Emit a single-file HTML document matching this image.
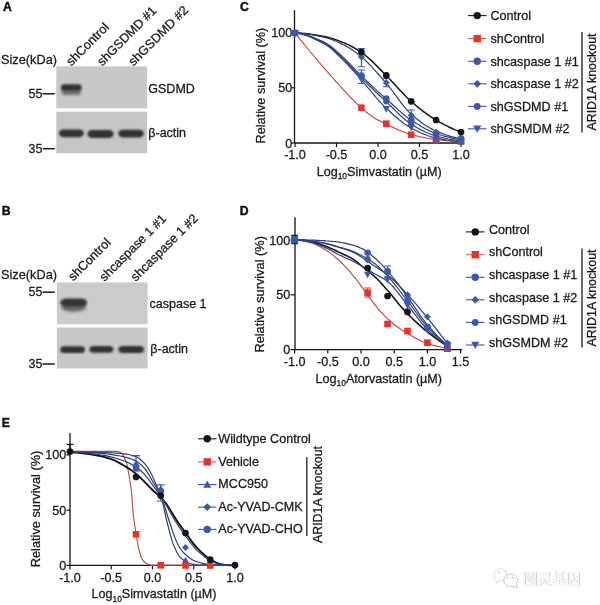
<!DOCTYPE html>
<html lang="en"><head><meta charset="utf-8"><title>Figure</title>
<style>html,body{margin:0;padding:0;background:#fff}body{width:600px;height:605px;overflow:hidden}svg{display:block}</style>
</head><body>
<svg width="600" height="605" viewBox="0 0 600 605" font-family='"Liberation Sans", sans-serif'>
<defs><filter id="b1" x="-20%" y="-50%" width="140%" height="200%"><feGaussianBlur stdDeviation="1.3"/></filter><filter id="b2" x="-20%" y="-50%" width="140%" height="200%"><feGaussianBlur stdDeviation="1.6"/></filter><linearGradient id="bg" x1="0" y1="0" x2="1" y2="0"><stop offset="0" stop-color="#c6c7c9"/><stop offset="1" stop-color="#c2c3c5"/></linearGradient></defs>
<rect width="600" height="605" fill="#fff"/>
<text x="3" y="10.7" font-size="12.2" text-anchor="start" font-weight="bold" fill="#111" stroke="#111" stroke-width="0.45">A</text>
<text x="1.8" y="215" font-size="12.2" text-anchor="start" font-weight="bold" fill="#111" stroke="#111" stroke-width="0.45">B</text>
<text x="240.1" y="10.8" font-size="12.2" text-anchor="start" font-weight="bold" fill="#111" stroke="#111" stroke-width="0.45">C</text>
<text x="239.8" y="215" font-size="12.2" text-anchor="start" font-weight="bold" fill="#111" stroke="#111" stroke-width="0.45">D</text>
<text x="1.8" y="427" font-size="12.2" text-anchor="start" font-weight="bold" fill="#111" stroke="#111" stroke-width="0.45">E</text>
<rect x="56.3" y="66.3" width="90.8" height="42" fill="#c7c8ca"/>
<rect x="56.3" y="111.7" width="90.8" height="41.6" fill="#c5c6c8"/>
<g filter="url(#b2)"><rect x="61.8" y="88.5" width="19" height="6.5" rx="2.5" fill="#5a5a5c" opacity="0.8"/></g>
<g filter="url(#b1)"><rect x="61" y="84.3" width="20.6" height="6.4" rx="3" fill="#333335"/></g>
<g filter="url(#b1)"><rect x="59" y="129.4" width="24.799999999999997" height="7.8" rx="4.4" ry="3.9" fill="#303032"/></g>
<g filter="url(#b1)"><rect x="87.5" y="130.1" width="26.099999999999994" height="7.8" rx="4.4" ry="3.9" fill="#303032"/></g>
<g filter="url(#b1)"><rect x="118.2" y="129.70000000000002" width="25.60000000000001" height="7.8" rx="4.4" ry="3.9" fill="#303032"/></g>
<text x="1" y="64" font-size="12.75" text-anchor="start" font-weight="normal" fill="#1a1a1a" stroke="#1a1a1a" stroke-width="0.28">Size(kDa)</text>
<text x="28.6" y="98" font-size="12.5" text-anchor="start" font-weight="normal" fill="#1a1a1a" stroke="#1a1a1a" stroke-width="0.28">55</text>
<path d="M42.6 93.8H54.8" stroke="#1a1a1a" stroke-width="1.5"/>
<text x="28.6" y="152.5" font-size="12.5" text-anchor="start" font-weight="normal" fill="#1a1a1a" stroke="#1a1a1a" stroke-width="0.28">35</text>
<path d="M42.6 148.7H54.8" stroke="#1a1a1a" stroke-width="1.5"/>
<text x="148.3" y="93.3" font-size="12.5" text-anchor="start" font-weight="normal" fill="#1a1a1a" stroke="#1a1a1a" stroke-width="0.28">GSDMD</text>
<text x="148.3" y="137.3" font-size="12.5" text-anchor="start" font-weight="normal" fill="#1a1a1a" stroke="#1a1a1a" stroke-width="0.28">β-actin</text>
<text x="71.3" y="66.5" font-size="12.7" text-anchor="start" font-weight="normal" fill="#1a1a1a" stroke="#1a1a1a" stroke-width="0.28" transform="rotate(-45 71.3 66.5)">shControl</text>
<text x="102.3" y="66.4" font-size="12.6" text-anchor="start" font-weight="normal" fill="#1a1a1a" stroke="#1a1a1a" stroke-width="0.28" transform="rotate(-45 102.3 66.4)">shGSDMD #1</text>
<text x="133.6" y="66.4" font-size="12.7" text-anchor="start" font-weight="normal" fill="#1a1a1a" stroke="#1a1a1a" stroke-width="0.28" transform="rotate(-45 133.6 66.4)">shGSDMD #2</text>
<rect x="56.8" y="282.4" width="90.8" height="41.8" fill="#cacbcd"/>
<rect x="56.8" y="327.5" width="90.8" height="41" fill="#c7c8ca"/>
<g filter="url(#b2)"><ellipse cx="73.6" cy="307.2" rx="12.4" ry="4.6" fill="#58585a" opacity="0.85"/></g>
<g filter="url(#b1)"><rect x="60.3" y="298.6" width="26.8" height="8" rx="6" ry="4" fill="#343436"/></g>
<g filter="url(#b1)"><rect x="60.2" y="346.3" width="24.799999999999997" height="6.8" rx="4.4" ry="3.4" fill="#303032"/></g>
<g filter="url(#b1)"><rect x="89.4" y="345.90000000000003" width="23.89999999999999" height="6.8" rx="4.4" ry="3.4" fill="#303032"/></g>
<g filter="url(#b1)"><rect x="118.5" y="346.1" width="25.5" height="6.8" rx="4.4" ry="3.4" fill="#303032"/></g>
<text x="1" y="279.2" font-size="12.75" text-anchor="start" font-weight="normal" fill="#1a1a1a" stroke="#1a1a1a" stroke-width="0.28">Size(kDa)</text>
<text x="28.6" y="295.5" font-size="12.5" text-anchor="start" font-weight="normal" fill="#1a1a1a" stroke="#1a1a1a" stroke-width="0.28">55</text>
<path d="M42.6 292.2H54.8" stroke="#1a1a1a" stroke-width="1.5"/>
<text x="28.6" y="367.5" font-size="12.5" text-anchor="start" font-weight="normal" fill="#1a1a1a" stroke="#1a1a1a" stroke-width="0.28">35</text>
<path d="M42.6 364H54.8" stroke="#1a1a1a" stroke-width="1.5"/>
<text x="149.6" y="307.8" font-size="12.5" text-anchor="start" font-weight="normal" fill="#1a1a1a" stroke="#1a1a1a" stroke-width="0.28">caspase 1</text>
<text x="150.3" y="352.7" font-size="12.5" text-anchor="start" font-weight="normal" fill="#1a1a1a" stroke="#1a1a1a" stroke-width="0.28">β-actin</text>
<text x="73.3" y="281.5" font-size="12.6" text-anchor="start" font-weight="normal" fill="#1a1a1a" stroke="#1a1a1a" stroke-width="0.28" transform="rotate(-45 73.3 281.5)">shControl</text>
<text x="104.5" y="282" font-size="12.6" text-anchor="start" font-weight="normal" fill="#1a1a1a" stroke="#1a1a1a" stroke-width="0.28" transform="rotate(-45 104.5 282)">shcaspase 1 #1</text>
<text x="135.8" y="282" font-size="12.7" text-anchor="start" font-weight="normal" fill="#1a1a1a" stroke="#1a1a1a" stroke-width="0.28" transform="rotate(-45 135.8 282)">shcaspase 1 #2</text>
<path d="M294.5 11V143H461.5" stroke="#141414" stroke-width="1.3" fill="none" stroke-linecap="square"/>
<path d="M295 143v4" stroke="#141414" stroke-width="1.2"/>
<text x="295" y="159.3" font-size="12.6" text-anchor="middle" font-weight="normal" fill="#1a1a1a" stroke="#1a1a1a" stroke-width="0.28">-1.0</text>
<path d="M336.5 143v4" stroke="#141414" stroke-width="1.2"/>
<text x="336.5" y="159.3" font-size="12.6" text-anchor="middle" font-weight="normal" fill="#1a1a1a" stroke="#1a1a1a" stroke-width="0.28">-0.5</text>
<path d="M378 143v4" stroke="#141414" stroke-width="1.2"/>
<text x="378" y="159.3" font-size="12.6" text-anchor="middle" font-weight="normal" fill="#1a1a1a" stroke="#1a1a1a" stroke-width="0.28">0.0</text>
<path d="M419.5 143v4" stroke="#141414" stroke-width="1.2"/>
<text x="419.5" y="159.3" font-size="12.6" text-anchor="middle" font-weight="normal" fill="#1a1a1a" stroke="#1a1a1a" stroke-width="0.28">0.5</text>
<path d="M461 143v4" stroke="#141414" stroke-width="1.2"/>
<text x="461" y="159.3" font-size="12.6" text-anchor="middle" font-weight="normal" fill="#1a1a1a" stroke="#1a1a1a" stroke-width="0.28">1.0</text>
<path d="M294.5 143.0h-3" stroke="#141414" stroke-width="1.2"/>
<text x="292.3" y="147.5" font-size="12.6" text-anchor="end" font-weight="normal" fill="#1a1a1a" stroke="#1a1a1a" stroke-width="0.28">0</text>
<path d="M294.5 87.75h-3" stroke="#141414" stroke-width="1.2"/>
<text x="292.3" y="92.25" font-size="12.6" text-anchor="end" font-weight="normal" fill="#1a1a1a" stroke="#1a1a1a" stroke-width="0.28">50</text>
<path d="M294.5 32.5h-3" stroke="#141414" stroke-width="1.2"/>
<text x="292.3" y="37.0" font-size="12.6" text-anchor="end" font-weight="normal" fill="#1a1a1a" stroke="#1a1a1a" stroke-width="0.28">100</text>
<text x="379.2" y="176" font-size="12.6" text-anchor="middle" fill="#1a1a1a" stroke="#1a1a1a" stroke-width="0.28">Log<tspan font-size="8.4" dy="3.2">10</tspan><tspan dy="-3.2">Simvastatin (µM)</tspan></text>
<text x="265" y="85.6" font-size="12.7" text-anchor="middle" font-weight="normal" fill="#1a1a1a" stroke="#1a1a1a" stroke-width="0.28" transform="rotate(-90 265 85.6)">Relative survival (%)</text>
<path d="M295.0 33.0 L297.1 33.0 L299.2 33.1 L301.3 33.2 L303.4 33.4 L305.5 33.6 L307.6 33.8 L309.7 34.1 L311.8 34.4 L313.9 34.7 L316.0 35.1 L318.1 35.4 L320.2 35.8 L322.3 36.2 L324.4 36.6 L326.5 37.0 L328.6 37.5 L330.7 38.1 L332.8 38.7 L334.9 39.4 L337.0 40.1 L339.1 40.9 L341.2 41.8 L343.3 42.6 L345.4 43.5 L347.5 44.4 L349.6 45.4 L351.7 46.5 L353.8 47.6 L355.9 48.8 L358.0 50.1 L360.1 51.4 L362.2 52.9 L364.3 54.4 L366.4 56.2 L368.5 58.0 L370.6 59.9 L372.7 61.9 L374.8 64.0 L376.9 66.1 L379.1 68.3 L381.2 70.4 L383.3 72.6 L385.4 74.7 L387.5 76.8 L389.6 78.9 L391.7 81.2 L393.8 83.4 L395.9 85.7 L398.0 88.1 L400.1 90.4 L402.2 92.6 L404.3 94.8 L406.4 97.0 L408.5 99.0 L410.6 100.9 L412.7 102.7 L414.8 104.5 L416.9 106.3 L419.0 108.0 L421.1 109.7 L423.2 111.3 L425.3 112.9 L427.4 114.4 L429.5 115.9 L431.6 117.3 L433.7 118.6 L435.8 119.9 L437.9 121.1 L440.0 122.3 L442.1 123.4 L444.2 124.6 L446.3 125.6 L448.4 126.7 L450.5 127.7 L452.6 128.7 L454.7 129.6 L456.8 130.4 L458.9 131.2 L461.0 132.0" stroke="#141414" stroke-width="1.5" fill="none" stroke-linejoin="round"/>
<path d="M295.0 33.0 L297.1 35.6 L299.2 38.2 L301.3 40.8 L303.4 43.4 L305.5 46.0 L307.6 48.5 L309.7 51.0 L311.8 53.5 L313.9 56.0 L316.0 58.5 L318.1 61.0 L320.2 63.5 L322.3 65.9 L324.4 68.3 L326.5 70.7 L328.6 73.2 L330.7 75.6 L332.8 78.0 L334.9 80.3 L337.0 82.7 L339.1 85.0 L341.2 87.4 L343.3 89.7 L345.4 91.9 L347.5 94.2 L349.6 96.4 L351.7 98.5 L353.8 100.7 L355.9 102.8 L358.0 104.8 L360.1 106.7 L362.2 108.6 L364.3 110.4 L366.4 112.1 L368.5 113.8 L370.6 115.4 L372.7 116.8 L374.8 118.2 L376.9 119.4 L379.1 120.5 L381.2 121.6 L383.3 122.7 L385.4 123.7 L387.5 124.7 L389.6 125.7 L391.7 126.7 L393.8 127.7 L395.9 128.7 L398.0 129.7 L400.1 130.6 L402.2 131.5 L404.3 132.3 L406.4 133.1 L408.5 133.8 L410.6 134.4 L412.7 134.9 L414.8 135.5 L416.9 136.0 L419.0 136.5 L421.1 137.0 L423.2 137.4 L425.3 137.8 L427.4 138.2 L429.5 138.6 L431.6 138.9 L433.7 139.2 L435.8 139.5 L437.9 139.7 L440.0 139.9 L442.1 140.2 L444.2 140.4 L446.3 140.6 L448.4 140.8 L450.5 141.0 L452.6 141.1 L454.7 141.2 L456.8 141.4 L458.9 141.4 L461.0 141.5" stroke="#b8443c" stroke-width="1.1" fill="none" stroke-linejoin="round"/>
<path d="M295.0 33.0 L297.1 33.0 L299.2 33.1 L301.3 33.3 L303.4 33.5 L305.5 33.7 L307.6 34.0 L309.7 34.4 L311.8 34.7 L313.9 35.1 L316.0 35.5 L318.1 36.0 L320.2 36.4 L322.3 36.9 L324.4 37.4 L326.5 37.9 L328.6 38.5 L330.7 39.1 L332.8 39.9 L334.9 40.8 L337.0 41.7 L339.1 42.6 L341.2 43.6 L343.3 44.7 L345.4 45.7 L347.5 46.9 L349.6 48.1 L351.7 49.5 L353.8 51.0 L355.9 52.5 L358.0 54.1 L360.1 55.8 L362.2 57.5 L364.3 59.4 L366.4 61.4 L368.5 63.5 L370.6 65.7 L372.7 67.9 L374.8 70.2 L376.9 72.6 L379.1 75.0 L381.2 77.4 L383.3 79.8 L385.4 82.3 L387.5 84.7 L389.6 87.3 L391.7 90.0 L393.8 92.9 L395.9 95.7 L398.0 98.6 L400.1 101.4 L402.2 104.2 L404.3 106.8 L406.4 109.3 L408.5 111.6 L410.6 113.6 L412.7 115.5 L414.8 117.2 L416.9 119.0 L419.0 120.6 L421.1 122.2 L423.2 123.7 L425.3 125.2 L427.4 126.5 L429.5 127.8 L431.6 128.9 L433.7 130.0 L435.8 130.9 L437.9 131.8 L440.0 132.6 L442.1 133.4 L444.2 134.2 L446.3 135.0 L448.4 135.7 L450.5 136.3 L452.6 136.9 L454.7 137.4 L456.8 137.9 L458.9 138.2 L461.0 138.5" stroke="#2c3f78" stroke-width="1.2" fill="none" stroke-linejoin="round"/>
<path d="M295.0 33.0 L297.1 33.1 L299.2 33.4 L301.3 33.7 L303.4 34.2 L305.5 34.7 L307.6 35.4 L309.7 36.1 L311.8 36.8 L313.9 37.7 L316.0 38.6 L318.1 39.5 L320.2 40.4 L322.3 41.4 L324.4 42.4 L326.5 43.5 L328.6 44.8 L330.7 46.3 L332.8 47.9 L334.9 49.7 L337.0 51.6 L339.1 53.5 L341.2 55.5 L343.3 57.5 L345.4 59.4 L347.5 61.4 L349.6 63.6 L351.7 65.8 L353.8 68.0 L355.9 70.3 L358.0 72.5 L360.1 74.6 L362.2 76.7 L364.3 78.7 L366.4 80.8 L368.5 82.8 L370.6 84.7 L372.7 86.7 L374.8 88.6 L376.9 90.6 L379.1 92.5 L381.2 94.4 L383.3 96.3 L385.4 98.1 L387.5 100.0 L389.6 101.9 L391.7 103.8 L393.8 105.8 L395.9 107.7 L398.0 109.6 L400.1 111.4 L402.2 113.3 L404.3 115.0 L406.4 116.7 L408.5 118.2 L410.6 119.7 L412.7 121.1 L414.8 122.5 L416.9 123.8 L419.0 125.1 L421.1 126.4 L423.2 127.6 L425.3 128.8 L427.4 129.8 L429.5 130.9 L431.6 131.8 L433.7 132.7 L435.8 133.4 L437.9 134.1 L440.0 134.8 L442.1 135.5 L444.2 136.1 L446.3 136.7 L448.4 137.2 L450.5 137.7 L452.6 138.2 L454.7 138.6 L456.8 139.0 L458.9 139.3 L461.0 139.5" stroke="#2c3f78" stroke-width="1.2" fill="none" stroke-linejoin="round"/>
<path d="M295.0 33.0 L297.1 33.2 L299.2 33.5 L301.3 33.9 L303.4 34.4 L305.5 35.0 L307.6 35.6 L309.7 36.4 L311.8 37.2 L313.9 38.1 L316.0 39.1 L318.1 40.1 L320.2 41.1 L322.3 42.1 L324.4 43.2 L326.5 44.3 L328.6 45.7 L330.7 47.3 L332.8 49.0 L334.9 50.8 L337.0 52.8 L339.1 54.8 L341.2 56.9 L343.3 58.9 L345.4 60.9 L347.5 63.0 L349.6 65.2 L351.7 67.5 L353.8 69.8 L355.9 72.1 L358.0 74.4 L360.1 76.6 L362.2 78.8 L364.3 80.9 L366.4 82.9 L368.5 85.0 L370.6 87.0 L372.7 89.0 L374.8 91.0 L376.9 93.0 L379.1 95.0 L381.2 97.0 L383.3 98.9 L385.4 100.9 L387.5 102.9 L389.6 104.9 L391.7 107.0 L393.8 109.0 L395.9 111.1 L398.0 113.2 L400.1 115.2 L402.2 117.1 L404.3 119.0 L406.4 120.7 L408.5 122.3 L410.6 123.7 L412.7 125.0 L414.8 126.3 L416.9 127.6 L419.0 128.7 L421.1 129.9 L423.2 131.0 L425.3 132.0 L427.4 133.0 L429.5 133.8 L431.6 134.6 L433.7 135.3 L435.8 135.9 L437.9 136.5 L440.0 137.0 L442.1 137.5 L444.2 138.0 L446.3 138.5 L448.4 139.0 L450.5 139.3 L452.6 139.7 L454.7 140.0 L456.8 140.2 L458.9 140.4 L461.0 140.5" stroke="#2c3f78" stroke-width="1.2" fill="none" stroke-linejoin="round"/>
<path d="M295.0 33.0 L297.1 33.2 L299.2 33.6 L301.3 34.0 L303.4 34.6 L305.5 35.2 L307.6 35.9 L309.7 36.8 L311.8 37.7 L313.9 38.6 L316.0 39.6 L318.1 40.7 L320.2 41.7 L322.3 42.9 L324.4 44.0 L326.5 45.2 L328.6 46.6 L330.7 48.3 L332.8 50.1 L334.9 52.0 L337.0 54.0 L339.1 56.1 L341.2 58.2 L343.3 60.3 L345.4 62.4 L347.5 64.6 L349.6 66.8 L351.7 69.1 L353.8 71.4 L355.9 73.8 L358.0 76.2 L360.1 78.5 L362.2 80.9 L364.3 83.3 L366.4 85.8 L368.5 88.3 L370.6 90.9 L372.7 93.4 L374.8 95.9 L376.9 98.4 L379.1 100.8 L381.2 103.1 L383.3 105.3 L385.4 107.4 L387.5 109.4 L389.6 111.3 L391.7 113.3 L393.8 115.2 L395.9 117.0 L398.0 118.8 L400.1 120.6 L402.2 122.2 L404.3 123.8 L406.4 125.2 L408.5 126.6 L410.6 127.8 L412.7 128.9 L414.8 130.0 L416.9 131.0 L419.0 132.0 L421.1 133.0 L423.2 133.9 L425.3 134.7 L427.4 135.5 L429.5 136.2 L431.6 136.9 L433.7 137.5 L435.8 138.0 L437.9 138.4 L440.0 138.8 L442.1 139.2 L444.2 139.6 L446.3 140.0 L448.4 140.4 L450.5 140.7 L452.6 140.9 L454.7 141.2 L456.8 141.3 L458.9 141.4 L461.0 141.5" stroke="#2c3f78" stroke-width="1.2" fill="none" stroke-linejoin="round"/>
<path d="M361.40 48.60V66.70M357.80 48.60H365.00M357.80 66.70H365.00" stroke="#3d58a6" stroke-width="1.15" fill="none"/>
<path d="M361.40 70.00V83.50M357.80 70.00H365.00M357.80 83.50H365.00" stroke="#3d58a6" stroke-width="1.15" fill="none"/>
<path d="M386.30 78.50V86.70M382.70 78.50H389.90M382.70 86.70H389.90" stroke="#3d58a6" stroke-width="1.15" fill="none"/>
<path d="M411.20 110.00V120.00M407.60 110.00H414.80M407.60 120.00H414.80" stroke="#3d58a6" stroke-width="1.15" fill="none"/>
<rect x="432.8" y="136.89999999999998" width="6.6" height="6.6" fill="#80468c"/>
<rect x="457.7" y="138.0" width="6.6" height="6.6" fill="#80468c"/>
<polygon points="291.37,30.10 298.63,30.10 295.00,36.63" fill="#3d58a6"/>
<polygon points="357.77,76.10 365.03,76.10 361.40,82.63" fill="#3d58a6"/>
<polygon points="382.67,106.10 389.93,106.10 386.30,112.63" fill="#3d58a6"/>
<polygon points="407.57,124.60 414.83,124.60 411.20,131.13" fill="#3d58a6"/>
<polygon points="432.47,133.40 439.73,133.40 436.10,139.93" fill="#3d58a6"/>
<polygon points="457.37,138.10 464.63,138.10 461.00,144.63" fill="#3d58a6"/>
<circle cx="295.00" cy="33.00" r="3.04" fill="#3d58a6"/>
<circle cx="361.40" cy="77.00" r="3.04" fill="#3d58a6"/>
<circle cx="386.30" cy="101.50" r="3.04" fill="#3d58a6"/>
<circle cx="411.20" cy="124.00" r="3.04" fill="#3d58a6"/>
<circle cx="436.10" cy="135.00" r="3.04" fill="#3d58a6"/>
<circle cx="461.00" cy="139.50" r="3.04" fill="#3d58a6"/>
<circle cx="295.00" cy="33.00" r="3.30" fill="#3d58a6"/>
<circle cx="361.40" cy="75.50" r="3.30" fill="#3d58a6"/>
<circle cx="386.30" cy="98.50" r="3.30" fill="#3d58a6"/>
<circle cx="411.20" cy="120.00" r="3.30" fill="#3d58a6"/>
<circle cx="436.10" cy="133.50" r="3.30" fill="#3d58a6"/>
<circle cx="461.00" cy="138.50" r="3.30" fill="#3d58a6"/>
<polygon points="295.00,29.54 298.46,33.00 295.00,36.47 291.54,33.00" fill="#3d58a6"/>
<polygon points="361.40,53.53 364.86,57.00 361.40,60.47 357.94,57.00" fill="#3d58a6"/>
<polygon points="386.30,79.23 389.76,82.70 386.30,86.17 382.84,82.70" fill="#3d58a6"/>
<polygon points="411.20,111.83 414.66,115.30 411.20,118.77 407.74,115.30" fill="#3d58a6"/>
<polygon points="436.10,128.84 439.56,132.30 436.10,135.77 432.64,132.30" fill="#3d58a6"/>
<polygon points="461.00,134.53 464.46,138.00 461.00,141.47 457.54,138.00" fill="#3d58a6"/>
<rect x="358.10" y="104.40" width="6.60" height="6.60" fill="#e5342c"/>
<rect x="383.00" y="120.40" width="6.60" height="6.60" fill="#e5342c"/>
<rect x="407.90" y="131.40" width="6.60" height="6.60" fill="#e5342c"/>
<rect x="432.8" y="139.3" width="6.6" height="4.2" fill="#80468c"/>
<rect x="457.7" y="140.3" width="6.6" height="4.2" fill="#80468c"/>
<circle cx="361.40" cy="52.00" r="3.35" fill="#141414"/>
<circle cx="386.30" cy="75.30" r="3.35" fill="#141414"/>
<circle cx="411.20" cy="101.30" r="3.35" fill="#141414"/>
<circle cx="436.10" cy="120.00" r="3.35" fill="#141414"/>
<circle cx="461.00" cy="132.00" r="3.35" fill="#141414"/>
<polygon points="457.59,139.27 464.41,139.27 461.00,145.41" fill="#3d58a6"/>
<rect x="291.80" y="29.80" width="6.40" height="6.40" fill="#3d58a6"/>
<polygon points="291.15,29.92 298.85,29.92 295.00,36.85" fill="#3d58a6"/>
<polygon points="295.00,29.32 298.68,33.00 295.00,36.67 291.32,33.00" fill="#3d58a6"/>
<path d="M468 15.6H486.5" stroke="#141414" stroke-width="1.1"/>
<circle cx="477.25" cy="15.60" r="3.70" fill="#141414"/>
<text x="490.5" y="19.9" font-size="12.6" text-anchor="start" font-weight="normal" fill="#1a1a1a" stroke="#1a1a1a" stroke-width="0.28">Control</text>
<path d="M468 38.6H486.5" stroke="#d0605a" stroke-width="1.1"/>
<rect x="473.55" y="34.90" width="7.40" height="7.40" fill="#e5342c"/>
<text x="490.5" y="42.9" font-size="12.6" text-anchor="start" font-weight="normal" fill="#1a1a1a" stroke="#1a1a1a" stroke-width="0.28">shControl</text>
<path d="M468 61.3H486.5" stroke="#3d58a6" stroke-width="1.1"/>
<circle cx="477.25" cy="61.30" r="3.70" fill="#3d58a6"/>
<text x="490.5" y="65.6" font-size="12.6" text-anchor="start" font-weight="normal" fill="#1a1a1a" stroke="#1a1a1a" stroke-width="0.28">shcaspase 1 #1</text>
<path d="M468 83.8H486.5" stroke="#3d58a6" stroke-width="1.1"/>
<polygon points="477.25,79.91 481.13,83.80 477.25,87.69 473.37,83.80" fill="#3d58a6"/>
<text x="490.5" y="88.1" font-size="12.6" text-anchor="start" font-weight="normal" fill="#1a1a1a" stroke="#1a1a1a" stroke-width="0.28">shcaspase 1 #2</text>
<path d="M468 106.4H486.5" stroke="#3d58a6" stroke-width="1.1"/>
<circle cx="477.25" cy="106.40" r="3.40" fill="#3d58a6"/>
<text x="490.5" y="110.7" font-size="12.6" text-anchor="start" font-weight="normal" fill="#1a1a1a" stroke="#1a1a1a" stroke-width="0.28">shGSDMD #1</text>
<path d="M468 128.8H486.5" stroke="#3d58a6" stroke-width="1.1"/>
<polygon points="473.18,125.54 481.32,125.54 477.25,132.87" fill="#3d58a6"/>
<text x="490.5" y="133.10000000000002" font-size="12.6" text-anchor="start" font-weight="normal" fill="#1a1a1a" stroke="#1a1a1a" stroke-width="0.28">shGSMDM #2</text>
<path d="M582 32V132.5" stroke="#1a1a1a" stroke-width="1.3"/>
<text x="596.3" y="82" font-size="12.4" text-anchor="middle" font-weight="normal" fill="#1a1a1a" stroke="#1a1a1a" stroke-width="0.28" transform="rotate(-90 596.3 82)">ARID1A knockout</text>
<path d="M295 218V349.6H461.5" stroke="#141414" stroke-width="1.3" fill="none" stroke-linecap="square"/>
<path d="M294.6 349.6v4" stroke="#141414" stroke-width="1.2"/>
<text x="294.6" y="365.90000000000003" font-size="12.6" text-anchor="middle" font-weight="normal" fill="#1a1a1a" stroke="#1a1a1a" stroke-width="0.28">-1.0</text>
<path d="M327.8 349.6v4" stroke="#141414" stroke-width="1.2"/>
<text x="327.8" y="365.90000000000003" font-size="12.6" text-anchor="middle" font-weight="normal" fill="#1a1a1a" stroke="#1a1a1a" stroke-width="0.28">-0.5</text>
<path d="M361.0 349.6v4" stroke="#141414" stroke-width="1.2"/>
<text x="361.0" y="365.90000000000003" font-size="12.6" text-anchor="middle" font-weight="normal" fill="#1a1a1a" stroke="#1a1a1a" stroke-width="0.28">0.0</text>
<path d="M394.2 349.6v4" stroke="#141414" stroke-width="1.2"/>
<text x="394.2" y="365.90000000000003" font-size="12.6" text-anchor="middle" font-weight="normal" fill="#1a1a1a" stroke="#1a1a1a" stroke-width="0.28">0.5</text>
<path d="M427.4 349.6v4" stroke="#141414" stroke-width="1.2"/>
<text x="427.4" y="365.90000000000003" font-size="12.6" text-anchor="middle" font-weight="normal" fill="#1a1a1a" stroke="#1a1a1a" stroke-width="0.28">1.0</text>
<path d="M460.6 349.6v4" stroke="#141414" stroke-width="1.2"/>
<text x="460.6" y="365.90000000000003" font-size="12.6" text-anchor="middle" font-weight="normal" fill="#1a1a1a" stroke="#1a1a1a" stroke-width="0.28">1.5</text>
<path d="M295 349.6h-4.6" stroke="#141414" stroke-width="1.2"/>
<text x="290.3" y="354.1" font-size="12.6" text-anchor="end" font-weight="normal" fill="#1a1a1a" stroke="#1a1a1a" stroke-width="0.28">0</text>
<path d="M295 294.8h-4.6" stroke="#141414" stroke-width="1.2"/>
<text x="290.3" y="299.3" font-size="12.6" text-anchor="end" font-weight="normal" fill="#1a1a1a" stroke="#1a1a1a" stroke-width="0.28">50</text>
<path d="M295 240.0h-4.6" stroke="#141414" stroke-width="1.2"/>
<text x="290.3" y="244.5" font-size="12.6" text-anchor="end" font-weight="normal" fill="#1a1a1a" stroke="#1a1a1a" stroke-width="0.28">100</text>
<text x="378.8" y="382.6" font-size="12.6" text-anchor="middle" fill="#1a1a1a" stroke="#1a1a1a" stroke-width="0.28">Log<tspan font-size="8.4" dy="3.2">10</tspan><tspan dy="-3.2">Atorvastatin (µM)</tspan></text>
<text x="263.8" y="294.3" font-size="12.8" text-anchor="middle" font-weight="normal" fill="#1a1a1a" stroke="#1a1a1a" stroke-width="0.28" transform="rotate(-90 263.8 294.3)">Relative survival (%)</text>
<path d="M295.0 239.7 L296.9 239.8 L298.9 239.9 L300.8 240.1 L302.7 240.4 L304.6 240.6 L306.6 240.9 L308.5 241.2 L310.4 241.6 L312.4 242.0 L314.3 242.5 L316.2 243.0 L318.1 243.6 L320.1 244.2 L322.0 244.9 L323.9 245.6 L325.8 246.3 L327.8 247.1 L329.7 247.9 L331.6 248.7 L333.6 249.6 L335.5 250.5 L337.4 251.5 L339.3 252.4 L341.3 253.3 L343.2 254.2 L345.1 255.0 L347.1 255.9 L349.0 256.9 L350.9 257.9 L352.8 259.0 L354.8 260.3 L356.7 261.7 L358.6 263.3 L360.5 265.0 L362.5 266.6 L364.4 268.2 L366.3 269.7 L368.3 271.1 L370.2 272.7 L372.1 274.3 L374.0 276.0 L376.0 277.8 L377.9 279.8 L379.8 281.8 L381.8 283.9 L383.7 286.0 L385.6 288.2 L387.5 290.3 L389.5 292.5 L391.4 294.8 L393.3 297.2 L395.2 299.6 L397.2 302.0 L399.1 304.4 L401.0 306.7 L403.0 308.9 L404.9 310.9 L406.8 312.9 L408.7 314.9 L410.7 316.8 L412.6 318.7 L414.5 320.6 L416.5 322.4 L418.4 324.2 L420.3 325.9 L422.2 327.6 L424.2 329.3 L426.1 330.9 L428.0 332.4 L429.9 333.9 L431.9 335.4 L433.8 336.9 L435.7 338.3 L437.7 339.7 L439.6 341.0 L441.5 342.3 L443.4 343.6 L445.4 344.8 L447.3 346.0" stroke="#141414" stroke-width="1.6" fill="none" stroke-linejoin="round"/>
<path d="M295.0 239.7 L296.9 239.8 L298.9 240.1 L300.8 240.4 L302.7 240.7 L304.6 241.1 L306.6 241.6 L308.5 242.1 L310.4 242.6 L312.4 243.2 L314.3 244.0 L316.2 244.8 L318.1 245.7 L320.1 246.7 L322.0 247.8 L323.9 248.9 L325.8 250.0 L327.8 251.3 L329.7 252.6 L331.6 254.1 L333.6 255.6 L335.5 257.3 L337.4 259.0 L339.3 260.7 L341.3 262.5 L343.2 264.4 L345.1 266.4 L347.1 268.5 L349.0 270.7 L350.9 272.9 L352.8 275.3 L354.8 277.6 L356.7 280.0 L358.6 282.5 L360.5 285.1 L362.5 287.8 L364.4 290.6 L366.3 293.3 L368.3 295.9 L370.2 298.5 L372.1 301.1 L374.0 303.7 L376.0 306.2 L377.9 308.6 L379.8 310.8 L381.8 312.9 L383.7 314.9 L385.6 316.8 L387.5 318.6 L389.5 320.4 L391.4 322.1 L393.3 323.7 L395.2 325.2 L397.2 326.7 L399.1 328.0 L401.0 329.4 L403.0 330.7 L404.9 331.9 L406.8 333.0 L408.7 334.2 L410.7 335.3 L412.6 336.4 L414.5 337.5 L416.5 338.6 L418.4 339.6 L420.3 340.6 L422.2 341.5 L424.2 342.3 L426.1 343.0 L428.0 343.7 L429.9 344.3 L431.9 344.8 L433.8 345.4 L435.7 345.9 L437.7 346.4 L439.6 346.8 L441.5 347.2 L443.4 347.5 L445.4 347.8 L447.3 348.0" stroke="#b8443c" stroke-width="1.1" fill="none" stroke-linejoin="round"/>
<path d="M295.0 239.7 L296.9 239.7 L298.9 239.7 L300.8 239.8 L302.7 239.8 L304.6 239.9 L306.6 239.9 L308.5 240.0 L310.4 240.1 L312.4 240.1 L314.3 240.2 L316.2 240.3 L318.1 240.4 L320.1 240.5 L322.0 240.6 L323.9 240.7 L325.8 240.9 L327.8 241.0 L329.7 241.2 L331.6 241.3 L333.6 241.5 L335.5 241.7 L337.4 242.0 L339.3 242.2 L341.3 242.5 L343.2 242.8 L345.1 243.2 L347.1 243.6 L349.0 244.1 L350.9 244.6 L352.8 245.2 L354.8 245.7 L356.7 246.4 L358.6 247.1 L360.5 248.0 L362.5 248.9 L364.4 249.9 L366.3 251.2 L368.3 252.6 L370.2 254.1 L372.1 255.7 L374.0 257.3 L376.0 259.0 L377.9 260.8 L379.8 262.7 L381.8 264.7 L383.7 266.7 L385.6 268.8 L387.5 270.9 L389.5 273.1 L391.4 275.5 L393.3 277.9 L395.2 280.3 L397.2 282.9 L399.1 285.4 L401.0 288.1 L403.0 290.7 L404.9 293.3 L406.8 295.9 L408.7 298.6 L410.7 301.3 L412.6 304.1 L414.5 306.9 L416.5 309.8 L418.4 312.7 L420.3 315.5 L422.2 318.2 L424.2 320.8 L426.1 323.3 L428.0 325.6 L429.9 327.8 L431.9 330.0 L433.8 332.1 L435.7 334.2 L437.7 336.2 L439.6 338.1 L441.5 339.9 L443.4 341.7 L445.4 343.4 L447.3 345.0" stroke="#2c3f78" stroke-width="1.2" fill="none" stroke-linejoin="round"/>
<path d="M295.0 239.7 L296.9 239.8 L298.9 239.9 L300.8 240.0 L302.7 240.2 L304.6 240.4 L306.6 240.6 L308.5 240.8 L310.4 241.1 L312.4 241.3 L314.3 241.6 L316.2 241.9 L318.1 242.2 L320.1 242.5 L322.0 242.8 L323.9 243.2 L325.8 243.7 L327.8 244.2 L329.7 244.7 L331.6 245.2 L333.6 245.8 L335.5 246.3 L337.4 246.9 L339.3 247.5 L341.3 248.1 L343.2 248.7 L345.1 249.3 L347.1 249.9 L349.0 250.6 L350.9 251.3 L352.8 252.1 L354.8 253.0 L356.7 254.1 L358.6 255.2 L360.5 256.5 L362.5 257.8 L364.4 259.0 L366.3 260.3 L368.3 261.7 L370.2 263.1 L372.1 264.5 L374.0 265.8 L376.0 267.1 L377.9 268.3 L379.8 269.6 L381.8 270.8 L383.7 272.1 L385.6 273.5 L387.5 274.9 L389.5 276.5 L391.4 278.2 L393.3 280.0 L395.2 281.8 L397.2 283.7 L399.1 285.7 L401.0 287.7 L403.0 289.7 L404.9 291.8 L406.8 293.9 L408.7 295.9 L410.7 298.1 L412.6 300.2 L414.5 302.4 L416.5 304.7 L418.4 306.9 L420.3 309.3 L422.2 311.6 L424.2 313.9 L426.1 316.3 L428.0 318.6 L429.9 321.0 L431.9 323.4 L433.8 325.9 L435.7 328.3 L437.7 330.8 L439.6 333.3 L441.5 335.8 L443.4 338.4 L445.4 340.9 L447.3 343.5" stroke="#2c3f78" stroke-width="1.2" fill="none" stroke-linejoin="round"/>
<path d="M295.0 239.7 L296.9 239.8 L298.9 239.9 L300.8 240.0 L302.7 240.1 L304.6 240.3 L306.6 240.5 L308.5 240.7 L310.4 241.0 L312.4 241.2 L314.3 241.5 L316.2 241.7 L318.1 242.0 L320.1 242.3 L322.0 242.6 L323.9 243.0 L325.8 243.4 L327.8 243.9 L329.7 244.3 L331.6 244.8 L333.6 245.4 L335.5 245.9 L337.4 246.5 L339.3 247.0 L341.3 247.6 L343.2 248.1 L345.1 248.7 L347.1 249.3 L349.0 249.9 L350.9 250.6 L352.8 251.3 L354.8 252.1 L356.7 253.0 L358.6 254.0 L360.5 255.0 L362.5 256.0 L364.4 257.1 L366.3 258.2 L368.3 259.3 L370.2 260.4 L372.1 261.7 L374.0 263.0 L376.0 264.6 L377.9 266.3 L379.8 268.0 L381.8 269.9 L383.7 271.9 L385.6 273.9 L387.5 275.9 L389.5 278.0 L391.4 280.3 L393.3 282.6 L395.2 285.0 L397.2 287.4 L399.1 289.9 L401.0 292.4 L403.0 295.0 L404.9 297.5 L406.8 300.0 L408.7 302.5 L410.7 305.0 L412.6 307.7 L414.5 310.3 L416.5 313.0 L418.4 315.6 L420.3 318.2 L422.2 320.8 L424.2 323.2 L426.1 325.4 L428.0 327.6 L429.9 329.6 L431.9 331.6 L433.8 333.5 L435.7 335.3 L437.7 337.1 L439.6 338.9 L441.5 340.5 L443.4 342.1 L445.4 343.6 L447.3 345.0" stroke="#2c3f78" stroke-width="1.2" fill="none" stroke-linejoin="round"/>
<path d="M295.0 239.7 L296.9 239.8 L298.9 240.0 L300.8 240.3 L302.7 240.6 L304.6 240.9 L306.6 241.3 L308.5 241.7 L310.4 242.1 L312.4 242.6 L314.3 243.2 L316.2 243.9 L318.1 244.6 L320.1 245.4 L322.0 246.2 L323.9 247.0 L325.8 247.9 L327.8 248.8 L329.7 249.8 L331.6 250.8 L333.6 251.9 L335.5 252.9 L337.4 254.0 L339.3 255.0 L341.3 255.9 L343.2 256.8 L345.1 257.7 L347.1 258.6 L349.0 259.4 L350.9 260.3 L352.8 261.3 L354.8 262.3 L356.7 263.3 L358.6 264.3 L360.5 265.4 L362.5 266.5 L364.4 267.6 L366.3 268.8 L368.3 269.9 L370.2 271.1 L372.1 272.3 L374.0 273.4 L376.0 274.5 L377.9 275.6 L379.8 276.6 L381.8 277.7 L383.7 278.8 L385.6 280.1 L387.5 281.5 L389.5 283.1 L391.4 284.9 L393.3 287.0 L395.2 289.3 L397.2 291.6 L399.1 294.1 L401.0 296.6 L403.0 299.1 L404.9 301.6 L406.8 304.0 L408.7 306.4 L410.7 308.8 L412.6 311.3 L414.5 313.8 L416.5 316.4 L418.4 318.9 L420.3 321.4 L422.2 323.7 L424.2 326.0 L426.1 328.1 L428.0 330.0 L429.9 331.9 L431.9 333.6 L433.8 335.4 L435.7 337.0 L437.7 338.6 L439.6 340.2 L441.5 341.6 L443.4 343.0 L445.4 344.3 L447.3 345.5" stroke="#2c3f78" stroke-width="1.2" fill="none" stroke-linejoin="round"/>
<path d="M294.60 235.40V243.70M291.30 235.40H297.90M291.30 243.70H297.90" stroke="#141414" stroke-width="1.3" fill="none"/>
<path d="M367.64 288.00V297.00M364.04 288.00H371.24M364.04 297.00H371.24" stroke="#e5342c" stroke-width="1.15" fill="none"/>
<path d="M387.56 266.00V277.00M383.96 266.00H391.16M383.96 277.00H391.16" stroke="#3d58a6" stroke-width="1.15" fill="none"/>
<path d="M407.48 296.00V309.00M403.88 296.00H411.08M403.88 309.00H411.08" stroke="#3d58a6" stroke-width="1.15" fill="none"/>
<circle cx="367.64" cy="268.00" r="3.35" fill="#141414"/>
<circle cx="387.56" cy="296.00" r="3.35" fill="#141414"/>
<circle cx="407.48" cy="312.00" r="3.35" fill="#141414"/>
<rect x="444.02" y="345.4" width="6.6" height="6.6" fill="#80468c"/>
<polygon points="290.97,236.80 298.23,236.80 294.60,243.33" fill="#3d58a6"/>
<polygon points="364.01,271.80 371.27,271.80 367.64,278.33" fill="#3d58a6"/>
<polygon points="383.93,276.60 391.19,276.60 387.56,283.13" fill="#3d58a6"/>
<polygon points="403.85,302.60 411.11,302.60 407.48,309.13" fill="#3d58a6"/>
<polygon points="423.77,327.10 431.03,327.10 427.40,333.63" fill="#3d58a6"/>
<polygon points="443.69,342.10 450.95,342.10 447.32,348.63" fill="#3d58a6"/>
<circle cx="294.60" cy="239.70" r="3.04" fill="#3d58a6"/>
<circle cx="367.64" cy="259.00" r="3.04" fill="#3d58a6"/>
<circle cx="387.56" cy="272.00" r="3.04" fill="#3d58a6"/>
<circle cx="407.48" cy="302.00" r="3.04" fill="#3d58a6"/>
<circle cx="427.40" cy="327.00" r="3.04" fill="#3d58a6"/>
<circle cx="447.32" cy="344.50" r="3.04" fill="#3d58a6"/>
<circle cx="294.60" cy="239.70" r="3.30" fill="#3d58a6"/>
<circle cx="367.64" cy="252.70" r="3.30" fill="#3d58a6"/>
<circle cx="387.56" cy="271.30" r="3.30" fill="#3d58a6"/>
<circle cx="407.48" cy="300.00" r="3.30" fill="#3d58a6"/>
<circle cx="427.40" cy="326.70" r="3.30" fill="#3d58a6"/>
<circle cx="447.32" cy="344.00" r="3.30" fill="#3d58a6"/>
<polygon points="294.60,236.23 298.06,239.70 294.60,243.16 291.14,239.70" fill="#3d58a6"/>
<polygon points="367.64,256.54 371.10,260.00 367.64,263.46 364.18,260.00" fill="#3d58a6"/>
<polygon points="387.56,269.54 391.02,273.00 387.56,276.46 384.10,273.00" fill="#3d58a6"/>
<polygon points="407.48,291.24 410.94,294.70 407.48,298.16 404.02,294.70" fill="#3d58a6"/>
<polygon points="427.40,313.24 430.86,316.70 427.40,320.16 423.94,316.70" fill="#3d58a6"/>
<polygon points="447.32,339.54 450.78,343.00 447.32,346.46 443.86,343.00" fill="#3d58a6"/>
<rect x="364.34" y="289.40" width="6.60" height="6.60" fill="#e5342c"/>
<rect x="384.26" y="320.70" width="6.60" height="6.60" fill="#e5342c"/>
<rect x="404.18" y="327.70" width="6.60" height="6.60" fill="#e5342c"/>
<rect x="424.10" y="339.40" width="6.60" height="6.60" fill="#e5342c"/>
<rect x="444.02" y="347.2" width="6.6" height="4.8" fill="#80468c"/>
<rect x="291.10" y="236.20" width="7.00" height="7.00" fill="#3d58a6"/>
<path d="M466 231.9H484.5" stroke="#141414" stroke-width="1.1"/>
<circle cx="475.25" cy="231.90" r="3.70" fill="#141414"/>
<text x="489" y="233.60000000000002" font-size="12.6" text-anchor="start" font-weight="normal" fill="#1a1a1a" stroke="#1a1a1a" stroke-width="0.28">Control</text>
<path d="M466 254.7H484.5" stroke="#d0605a" stroke-width="1.1"/>
<rect x="471.55" y="251.00" width="7.40" height="7.40" fill="#e5342c"/>
<text x="489" y="256.4" font-size="12.6" text-anchor="start" font-weight="normal" fill="#1a1a1a" stroke="#1a1a1a" stroke-width="0.28">shControl</text>
<path d="M466 277.3H484.5" stroke="#3d58a6" stroke-width="1.1"/>
<circle cx="475.25" cy="277.30" r="3.70" fill="#3d58a6"/>
<text x="489" y="279.0" font-size="12.6" text-anchor="start" font-weight="normal" fill="#1a1a1a" stroke="#1a1a1a" stroke-width="0.28">shcaspase 1 #1</text>
<path d="M466 299.8H484.5" stroke="#3d58a6" stroke-width="1.1"/>
<polygon points="475.25,295.92 479.13,299.80 475.25,303.69 471.37,299.80" fill="#3d58a6"/>
<text x="489" y="301.5" font-size="12.6" text-anchor="start" font-weight="normal" fill="#1a1a1a" stroke="#1a1a1a" stroke-width="0.28">shcaspase 1 #2</text>
<path d="M466 322.40000000000003H484.5" stroke="#3d58a6" stroke-width="1.1"/>
<circle cx="475.25" cy="322.40" r="3.40" fill="#3d58a6"/>
<text x="489" y="324.1" font-size="12.6" text-anchor="start" font-weight="normal" fill="#1a1a1a" stroke="#1a1a1a" stroke-width="0.28">shGSDMD #1</text>
<path d="M466 345.0H484.5" stroke="#3d58a6" stroke-width="1.1"/>
<polygon points="471.18,341.74 479.32,341.74 475.25,349.07" fill="#3d58a6"/>
<text x="489" y="346.7" font-size="12.6" text-anchor="start" font-weight="normal" fill="#1a1a1a" stroke="#1a1a1a" stroke-width="0.28">shGSMDM #2</text>
<path d="M582 248.4V347.5" stroke="#1a1a1a" stroke-width="1.3"/>
<text x="596.3" y="298" font-size="12.4" text-anchor="middle" font-weight="normal" fill="#1a1a1a" stroke="#1a1a1a" stroke-width="0.28" transform="rotate(-90 596.3 298)">ARID1A knockout</text>
<path d="M70 433.6V565.4H235.5" stroke="#141414" stroke-width="1.3" fill="none" stroke-linecap="square"/>
<path d="M70.0 565.4v4" stroke="#141414" stroke-width="1.2"/>
<text x="70.0" y="581.6999999999999" font-size="12.6" text-anchor="middle" font-weight="normal" fill="#1a1a1a" stroke="#1a1a1a" stroke-width="0.28">-1.0</text>
<path d="M111.25 565.4v4" stroke="#141414" stroke-width="1.2"/>
<text x="111.25" y="581.6999999999999" font-size="12.6" text-anchor="middle" font-weight="normal" fill="#1a1a1a" stroke="#1a1a1a" stroke-width="0.28">-0.5</text>
<path d="M152.5 565.4v4" stroke="#141414" stroke-width="1.2"/>
<text x="152.5" y="581.6999999999999" font-size="12.6" text-anchor="middle" font-weight="normal" fill="#1a1a1a" stroke="#1a1a1a" stroke-width="0.28">0.0</text>
<path d="M193.75 565.4v4" stroke="#141414" stroke-width="1.2"/>
<text x="193.75" y="581.6999999999999" font-size="12.6" text-anchor="middle" font-weight="normal" fill="#1a1a1a" stroke="#1a1a1a" stroke-width="0.28">0.5</text>
<path d="M235.0 565.4v4" stroke="#141414" stroke-width="1.2"/>
<text x="235.0" y="581.6999999999999" font-size="12.6" text-anchor="middle" font-weight="normal" fill="#1a1a1a" stroke="#1a1a1a" stroke-width="0.28">1.0</text>
<path d="M70 565.4h-3.6" stroke="#141414" stroke-width="1.2"/>
<text x="66.2" y="569.9" font-size="12.6" text-anchor="end" font-weight="normal" fill="#1a1a1a" stroke="#1a1a1a" stroke-width="0.28">0</text>
<path d="M70 510.15h-3.6" stroke="#141414" stroke-width="1.2"/>
<text x="66.2" y="514.65" font-size="12.6" text-anchor="end" font-weight="normal" fill="#1a1a1a" stroke="#1a1a1a" stroke-width="0.28">50</text>
<path d="M70 454.9h-3.6" stroke="#141414" stroke-width="1.2"/>
<text x="66.2" y="459.4" font-size="12.6" text-anchor="end" font-weight="normal" fill="#1a1a1a" stroke="#1a1a1a" stroke-width="0.28">100</text>
<text x="154" y="598.4" font-size="12.6" text-anchor="middle" fill="#1a1a1a" stroke="#1a1a1a" stroke-width="0.28">Log<tspan font-size="8.4" dy="3.2">10</tspan><tspan dy="-3.2">Simvastatin (µM)</tspan></text>
<text x="39.5" y="509" font-size="12.8" text-anchor="middle" font-weight="normal" fill="#1a1a1a" stroke="#1a1a1a" stroke-width="0.28" transform="rotate(-90 39.5 509)">Relative survival (%)</text>
<path d="M70 451.4H116Q120.5 451.6 122.7 454L126.7 463.3L129.3 476.7L131.3 490L133.3 515L136 534L138.5 548L141.3 557.7Q143.5 562 146.7 563.7L151 565.2H235" stroke="#b8443c" stroke-width="1.1" fill="none" stroke-linejoin="round"/>
<path d="M70.0 452.4 L72.1 452.4 L74.2 452.5 L76.3 452.6 L78.4 452.8 L80.4 453.0 L82.5 453.2 L84.6 453.5 L86.7 453.8 L88.8 454.1 L90.9 454.4 L93.0 454.8 L95.1 455.1 L97.2 455.5 L99.2 455.9 L101.3 456.3 L103.4 456.7 L105.5 457.3 L107.6 458.0 L109.7 458.7 L111.8 459.4 L113.9 460.2 L115.9 461.1 L118.0 462.2 L120.1 463.4 L122.2 464.6 L124.3 465.8 L126.4 467.1 L128.5 468.4 L130.6 469.7 L132.7 471.2 L134.7 472.7 L136.8 474.5 L138.9 476.4 L141.0 478.3 L143.1 480.4 L145.2 482.5 L147.3 484.7 L149.4 486.9 L151.5 489.0 L153.5 491.0 L155.6 492.8 L157.7 494.4 L159.8 496.2 L161.9 498.3 L164.0 500.8 L166.1 503.6 L168.2 506.8 L170.3 510.1 L172.3 513.4 L174.4 516.8 L176.5 520.1 L178.6 523.2 L180.7 526.1 L182.8 529.0 L184.9 531.9 L187.0 534.7 L189.1 537.7 L191.1 540.6 L193.2 543.3 L195.3 545.9 L197.4 548.2 L199.5 550.3 L201.6 552.4 L203.7 554.3 L205.8 556.1 L207.8 557.7 L209.9 559.1 L212.0 560.4 L214.1 561.6 L216.2 562.7 L218.3 563.5 L220.4 564.1 L222.5 564.5 L224.6 564.9 L226.6 565.1 L228.7 565.2 L230.8 565.3 L232.9 565.3 L235.0 565.3" stroke="#141414" stroke-width="1.9" fill="none" stroke-linejoin="round"/>
<path d="M70.0 452.2 L72.1 452.2 L74.2 452.3 L76.3 452.4 L78.4 452.5 L80.4 452.6 L82.5 452.8 L84.6 453.0 L86.7 453.2 L88.8 453.4 L90.9 453.6 L93.0 453.9 L95.1 454.2 L97.2 454.4 L99.2 454.7 L101.3 455.0 L103.4 455.3 L105.5 455.7 L107.6 456.1 L109.7 456.6 L111.8 457.1 L113.9 457.7 L115.9 458.3 L118.0 458.9 L120.1 459.5 L122.2 460.2 L124.3 461.0 L126.4 461.9 L128.5 462.8 L130.6 463.9 L132.7 465.0 L134.7 466.2 L136.8 467.6 L138.9 469.1 L141.0 471.0 L143.1 473.0 L145.2 475.2 L147.3 477.7 L149.4 480.5 L151.5 483.5 L153.5 486.3 L155.6 489.1 L157.7 491.9 L159.8 494.8 L161.9 497.9 L164.0 501.2 L166.1 504.8 L168.2 508.6 L170.3 512.3 L172.3 516.0 L174.4 519.6 L176.5 523.0 L178.6 526.2 L180.7 529.3 L182.8 532.3 L184.9 535.2 L187.0 538.0 L189.1 540.8 L191.1 543.6 L193.2 546.1 L195.3 548.5 L197.4 550.6 L199.5 552.5 L201.6 554.4 L203.7 556.1 L205.8 557.7 L207.8 559.1 L209.9 560.2 L212.0 561.3 L214.1 562.3 L216.2 563.2 L218.3 563.9 L220.4 564.2 L222.5 564.5 L224.6 564.7 L226.6 564.9 L228.7 565.1 L230.8 565.2 L232.9 565.3 L235.0 565.3" stroke="#2c3f78" stroke-width="1.2" fill="none" stroke-linejoin="round"/>
<path d="M70.0 452.0 L72.1 452.0 L74.2 452.0 L76.3 452.1 L78.4 452.1 L80.4 452.2 L82.5 452.3 L84.6 452.4 L86.7 452.5 L88.8 452.6 L90.9 452.7 L93.0 452.8 L95.1 453.0 L97.2 453.1 L99.2 453.2 L101.3 453.4 L103.4 453.6 L105.5 453.8 L107.6 454.0 L109.7 454.3 L111.8 454.6 L113.9 454.9 L115.9 455.3 L118.0 455.6 L120.1 456.0 L122.2 456.4 L124.3 456.9 L126.4 457.5 L128.5 458.1 L130.6 458.7 L132.7 459.5 L134.7 460.4 L136.8 461.4 L138.9 462.9 L141.0 464.7 L143.1 466.9 L145.2 469.2 L147.3 472.1 L149.4 475.6 L151.5 479.3 L153.5 482.9 L155.6 486.3 L157.7 489.8 L159.8 493.7 L161.9 498.3 L164.0 504.3 L166.1 511.1 L168.2 518.0 L170.3 524.3 L172.3 530.4 L174.4 536.3 L176.5 541.6 L178.6 545.8 L180.7 549.0 L182.8 551.8 L184.9 554.0 L187.0 555.9 L189.1 557.5 L191.1 558.9 L193.2 560.2 L195.3 561.1 L197.4 561.9 L199.5 562.5 L201.6 563.1 L203.7 563.6 L205.8 564.1 L207.8 564.4 L209.9 564.5 L212.0 564.6 L214.1 564.8 L216.2 564.9 L218.3 564.9 L220.4 565.0 L222.5 565.1 L224.6 565.2 L226.6 565.2 L228.7 565.2 L230.8 565.3 L232.9 565.3 L235.0 565.3" stroke="#2c3f78" stroke-width="1.2" fill="none" stroke-linejoin="round"/>
<path d="M70.0 452.0 L72.1 452.0 L74.2 452.0 L76.3 452.0 L78.4 452.0 L80.4 452.1 L82.5 452.1 L84.6 452.1 L86.7 452.2 L88.8 452.2 L90.9 452.2 L93.0 452.3 L95.1 452.3 L97.2 452.4 L99.2 452.5 L101.3 452.5 L103.4 452.6 L105.5 452.6 L107.6 452.7 L109.7 452.8 L111.8 452.9 L113.9 453.0 L115.9 453.1 L118.0 453.3 L120.1 453.5 L122.2 453.7 L124.3 453.9 L126.4 454.2 L128.5 454.5 L130.6 455.0 L132.7 455.6 L134.7 456.2 L136.8 457.1 L138.9 458.3 L141.0 460.0 L143.1 462.0 L145.2 464.2 L147.3 467.0 L149.4 470.4 L151.5 474.2 L153.5 478.6 L155.6 483.5 L157.7 488.2 L159.8 492.9 L161.9 499.0 L164.0 508.1 L166.1 518.2 L168.2 526.7 L170.3 534.6 L172.3 541.7 L174.4 547.1 L176.5 551.6 L178.6 555.3 L180.7 557.8 L182.8 559.6 L184.9 561.2 L187.0 562.4 L189.1 563.2 L191.1 563.8 L193.2 564.2 L195.3 564.6 L197.4 564.8 L199.5 565.0 L201.6 565.0 L203.7 565.1 L205.8 565.1 L207.8 565.1 L209.9 565.2 L212.0 565.2 L214.1 565.2 L216.2 565.2 L218.3 565.2 L220.4 565.3 L222.5 565.3 L224.6 565.3 L226.6 565.3 L228.7 565.3 L230.8 565.3 L232.9 565.3 L235.0 565.3" stroke="#2c3f78" stroke-width="1.2" fill="none" stroke-linejoin="round"/>
<path d="M70.00 444.40V452.00M66.60 444.40H73.40M66.60 452.00H73.40" stroke="#141414" stroke-width="1.3" fill="none"/>
<path d="M136.00 455.60V471.00M132.00 455.60H140.00M132.00 471.00H140.00" stroke="#3d58a6" stroke-width="1.2" fill="none"/>
<path d="M160.75 484.80V501.00M156.75 484.80H164.75M156.75 501.00H164.75" stroke="#3d58a6" stroke-width="1.2" fill="none"/>
<circle cx="136.00" cy="468.00" r="3.30" fill="#3d58a6"/>
<circle cx="160.75" cy="491.00" r="3.30" fill="#3d58a6"/>
<polygon points="136.00,462.54 139.47,466.00 136.00,469.46 132.53,466.00" fill="#3d58a6"/>
<polygon points="160.75,486.54 164.22,490.00 160.75,493.46 157.28,490.00" fill="#3d58a6"/>
<polygon points="185.50,544.03 188.97,547.50 185.50,550.97 182.03,547.50" fill="#3d58a6"/>
<polygon points="132.37,466.40 139.63,466.40 136.00,459.87" fill="#3d58a6"/>
<polygon points="157.12,491.90 164.38,491.90 160.75,485.37" fill="#3d58a6"/>
<polygon points="181.87,563.20 189.13,563.20 185.50,556.67" fill="#3d58a6"/>
<rect x="132.70" y="531.00" width="6.60" height="6.60" fill="#e5342c"/>
<rect x="157.45" y="562.00" width="6.60" height="6.60" fill="#e5342c"/>
<rect x="182.20" y="562.20" width="6.60" height="6.60" fill="#e5342c"/>
<rect x="206.95" y="562.20" width="6.60" height="6.60" fill="#e5342c"/>
<circle cx="70.00" cy="451.60" r="3.35" fill="#141414"/>
<circle cx="136.00" cy="477.00" r="3.35" fill="#141414"/>
<circle cx="160.75" cy="495.70" r="3.35" fill="#141414"/>
<circle cx="185.50" cy="533.00" r="3.35" fill="#141414"/>
<circle cx="210.25" cy="559.70" r="3.35" fill="#141414"/>
<circle cx="235.00" cy="565.00" r="3.35" fill="#141414"/>
<path d="M198 438.8H216.5" stroke="#141414" stroke-width="1.1"/>
<circle cx="207.25" cy="438.80" r="3.70" fill="#141414"/>
<text x="218.3" y="442.5" font-size="12.6" text-anchor="start" font-weight="normal" fill="#1a1a1a" stroke="#1a1a1a" stroke-width="0.28">Wildtype Control</text>
<path d="M198 461.90000000000003H216.5" stroke="#d0605a" stroke-width="1.1"/>
<rect x="203.55" y="458.20" width="7.40" height="7.40" fill="#e5342c"/>
<text x="218.3" y="465.6" font-size="12.6" text-anchor="start" font-weight="normal" fill="#1a1a1a" stroke="#1a1a1a" stroke-width="0.28">Vehicle</text>
<path d="M198 484.6H216.5" stroke="#3d58a6" stroke-width="1.1"/>
<polygon points="203.18,487.86 211.32,487.86 207.25,480.53" fill="#3d58a6"/>
<text x="218.3" y="488.3" font-size="12.6" text-anchor="start" font-weight="normal" fill="#1a1a1a" stroke="#1a1a1a" stroke-width="0.28">MCC950</text>
<path d="M198 507.1H216.5" stroke="#3d58a6" stroke-width="1.1"/>
<polygon points="207.25,503.22 211.13,507.10 207.25,510.99 203.37,507.10" fill="#3d58a6"/>
<text x="218.3" y="510.8" font-size="12.6" text-anchor="start" font-weight="normal" fill="#1a1a1a" stroke="#1a1a1a" stroke-width="0.28">Ac-YVAD-CMK</text>
<path d="M198 529.4H216.5" stroke="#3d58a6" stroke-width="1.1"/>
<circle cx="207.25" cy="529.40" r="3.70" fill="#3d58a6"/>
<text x="218.3" y="533.0999999999999" font-size="12.6" text-anchor="start" font-weight="normal" fill="#1a1a1a" stroke="#1a1a1a" stroke-width="0.28">Ac-YVAD-CHO</text>
<path d="M306.8 457.3V536" stroke="#1a1a1a" stroke-width="1.3"/>
<text x="321.5" y="494.5" font-size="12.4" text-anchor="middle" font-weight="normal" fill="#1a1a1a" stroke="#1a1a1a" stroke-width="0.28" transform="rotate(-90 321.5 494.5)">ARID1A knockout</text>
<g opacity="0.9">
<g fill="#fff" stroke-width="0.8" stroke-linejoin="round"><path d="M499.35 581L496.3 583.4L495.83 579.25A6.6 6.3 0 1 1 499.35 581Z" stroke="#d2d2d2"/><path d="M516.06 584.35L517.3 587.8L512.51 586.39A7 6.3 0 1 1 516.06 584.35Z" stroke="#b2b2b2"/></g>
<g fill="#cacaca"><circle cx="499.3" cy="572" r="0.95"/><circle cx="505.8" cy="571.8" r="0.95"/></g><g fill="#bdbdbd"><circle cx="507.7" cy="577.6" r="0.85"/><circle cx="512.9" cy="577.6" r="0.85"/></g>
<text x="523.4" y="584.3" font-size="14.4" font-family='"Liberation Sans","Noto Sans CJK SC",sans-serif' fill="#b4b4b4">图灵基因</text>
<text x="522.6" y="583.5" font-size="14.4" font-family='"Liberation Sans","Noto Sans CJK SC",sans-serif' fill="#fefefe" stroke="#e4e4e4" stroke-width="0.25">图灵基因</text>
</g>
</svg></body></html>
